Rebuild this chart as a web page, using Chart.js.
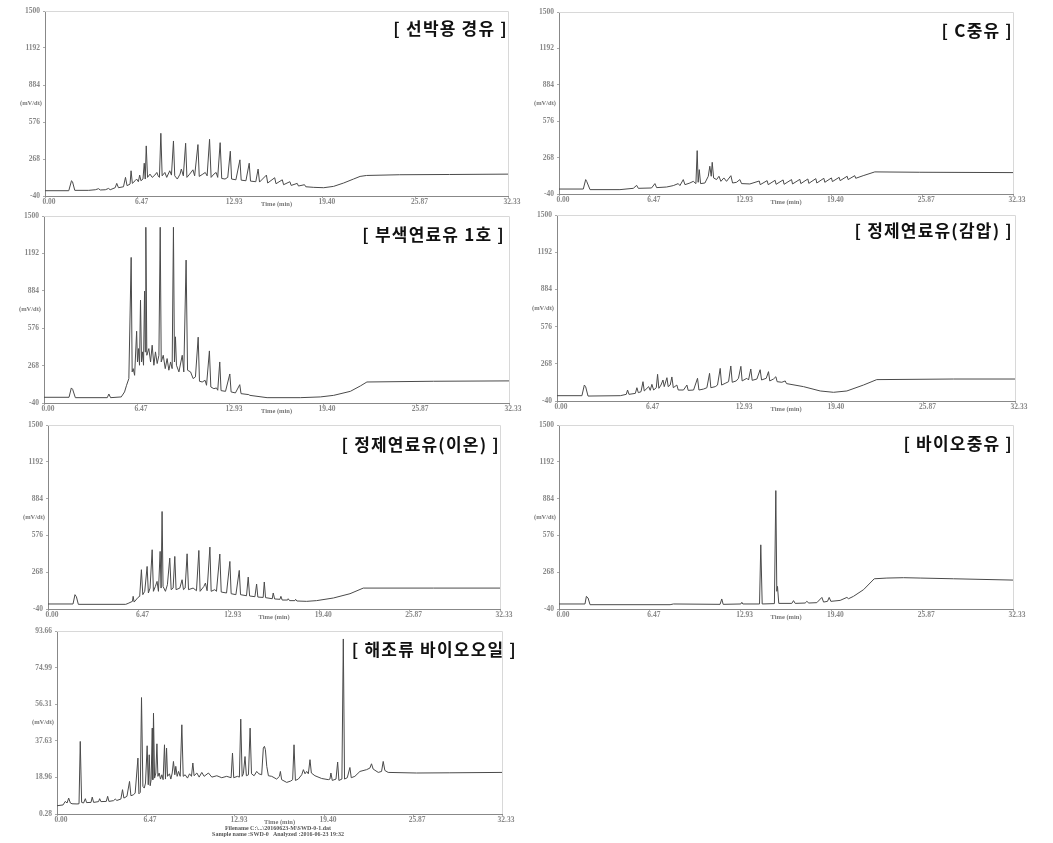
<!DOCTYPE html>
<html>
<head>
<meta charset="utf-8">
<script src="https://cdn.jsdelivr.net/npm/chart.js@4.4.1/dist/chart.umd.min.js"></script>
<style>
  html, body { margin: 0; padding: 0; background: #fff; }
  #page { position: relative; width: 1053px; height: 843px; overflow: hidden; }
  #page canvas { position: absolute; }
  .tag {
    position: absolute;
    font-family: "Noto Sans CJK KR", sans-serif;
    font-weight: bold;
    font-size: 17px;
    letter-spacing: 1.2px;
    color: #111;
    white-space: pre;
    line-height: 20px;
  }
  .foot {
    position: absolute;
    font-family: "Liberation Serif", serif;
    font-weight: bold;
    font-size: 6px;
    color: #555;
    white-space: pre;
    text-align: center;
    width: 300px;
    line-height: 6px;
  }
</style>
</head>
<body>
<div id="page">
  <canvas id="c1"></canvas>
  <canvas id="c2"></canvas>
  <canvas id="c3"></canvas>
  <canvas id="c4"></canvas>
  <canvas id="c5"></canvas>
  <canvas id="c6"></canvas>
  <canvas id="c7"></canvas>
  <div class="tag" style="right:545px; top:18px">[ 선박용 경유 ]</div>
  <div class="tag" style="right:40px; top:20px">[ C중유 ]</div>
  <div class="tag" style="right:548px; top:224px">[ 부색연료유 1호 ]</div>
  <div class="tag" style="right:40px; top:220px">[ 정제연료유(감압) ]</div>
  <div class="tag" style="right:553px; top:434px">[ 정제연료유(이온) ]</div>
  <div class="tag" style="right:40px; top:433px">[ 바이오중유 ]</div>
  <div class="tag" style="right:536px; top:639px">[ 해조류 바이오오일 ]</div>
  <div class="foot" style="left:128px; top:825px">Filename C:\...\20160623-M\SWD-0-1.dat</div>
  <div class="foot" style="left:128px; top:831px">Sample name :SWD-0   Analyzed :2016-06-23 19:32</div>
</div>
<script>
// axis ticks
const timeTicks = [0, 6.47, 12.93, 19.40, 25.87, 32.33];
const mvTicks = [-40, 268, 576, 884, 1192, 1500];
const algaeTicks = [0.28, 18.96, 37.63, 56.31, 74.99, 93.66];

// chromatograms, [time (min), signal]
const marineDiesel = [
  [0,4],[1.66,4],[1.85,87],[1.92,79],[2.08,7],[3.05,7],[3.51,12],[3.74,21],[3.86,10],[4.21,12],
  [4.44,23],[4.55,12],[4.9,29],[5.01,65],[5.13,29],[5.48,37],[5.62,115],[5.73,46],[5.94,59],[6.01,170],
  [6.1,65],[6.29,87],[6.4,101],[6.52,79],[6.61,134],[6.7,87],[6.84,101],[6.93,233],[7.0,101],[7.07,377],
  [7.16,115],[7.33,142],[7.49,115],[7.67,134],[7.81,156],[7.9,128],[7.99,115],[8.09,482],[8.18,128],[8.37,156],
  [8.5,115],[8.71,170],[8.83,134],[8.97,418],[9.06,128],[9.24,101],[9.43,142],[9.52,184],[9.66,128],[9.82,399],
  [9.91,115],[10.1,142],[10.33,178],[10.45,128],[10.68,388],[10.77,123],[11.02,142],[11.19,156],[11.32,128],[11.49,432],
  [11.6,115],[11.79,142],[11.95,156],[12.06,115],[12.23,404],[12.34,106],[12.57,101],[12.76,115],[12.94,333],[13.03,101],
  [13.33,95],[13.61,261],[13.7,92],[14.03,87],[14.26,233],[14.35,84],[14.72,79],[14.88,184],[14.98,76],[15.46,134],
  [15.55,68],[16.04,112],[16.13,62],[16.57,95],[16.66,54],[17.1,79],[17.19,48],[17.61,65],[17.7,43],[18.12,54],
  [18.21,37],[18.77,32],[19.46,29],[20.15,40],[20.85,68],[21.54,101],[22.0,123],[22.46,131],[24.77,137],[28.24,139],
  [32.33,142]
];
const bunkerC = [
  [0,2],[1.73,2],[1.9,82],[1.97,67],[2.21,-3],[4.34,-3],[5.29,8],[5.53,33],[5.65,8],[6.59,11],
  [6.83,48],[6.95,14],[7.66,19],[8.14,31],[8.49,48],[8.61,31],[8.85,82],[8.97,39],[9.32,53],[9.56,67],
  [9.75,48],[9.84,327],[9.91,59],[9.99,166],[10.08,48],[10.39,53],[10.63,110],[10.74,195],[10.84,110],[10.91,228],
  [11.01,96],[11.22,82],[11.39,110],[11.53,67],[11.74,96],[11.93,67],[12.24,115],[12.36,53],[12.64,59],[12.88,82],
  [13.0,48],[13.59,45],[14.26,70],[14.33,39],[14.82,73],[14.9,39],[15.39,76],[15.46,42],[15.96,79],[16.03,42],
  [16.56,82],[16.63,45],[17.15,84],[17.22,48],[17.72,87],[17.79,50],[18.29,90],[18.36,53],[18.86,93],[18.93,59],
  [19.4,96],[19.47,65],[19.95,101],[20.02,73],[20.52,110],[20.59,82],[21.06,115],[21.13,93],[21.66,115],[22.49,147],
  [25.69,144],[32.33,141]
];
const dyedFuel1 = [
  [0,7],[1.74,7],[1.9,84],[1.99,73],[2.18,4],[4.4,4],[4.51,34],[4.63,4],[5.37,10],[5.6,51],
  [5.74,106],[5.9,161],[6.06,1159],[6.13,216],[6.2,243],[6.3,188],[6.44,551],[6.5,298],[6.57,408],[6.64,271],
  [6.71,807],[6.78,298],[6.85,381],[6.92,271],[6.99,881],[7.04,381],[7.08,1407],[7.15,353],[7.29,408],[7.41,298],
  [7.52,436],[7.64,271],[7.75,381],[7.87,285],[7.99,353],[8.08,1407],[8.15,298],[8.29,353],[8.43,243],[8.56,326],
  [8.68,230],[8.8,298],[8.91,243],[9.0,1407],[9.07,298],[9.14,505],[9.21,271],[9.38,216],[9.61,353],[9.72,216],
  [9.88,1137],[9.98,230],[10.19,216],[10.37,161],[10.53,175],[10.72,502],[10.81,139],[11.0,133],[11.2,147],[11.3,106],
  [11.5,389],[11.6,92],[11.81,78],[11.99,84],[12.08,65],[12.22,298],[12.31,62],[12.62,56],[12.92,199],[13.01,51],
  [13.31,43],[13.61,111],[13.7,37],[14.24,29],[14.31,23],[15.51,4],[17.82,4],[19.21,10],[20.14,23],[21.3,56],
  [21.99,100],[22.45,133],[27.08,139],[32.33,142]
];
const refinedVacuum = [
  [0,4],[1.76,4],[1.93,92],[2.02,79],[2.19,1],[4.47,4],[4.89,15],[4.98,51],[5.08,15],[5.53,23],
  [5.64,70],[5.74,29],[5.93,37],[6.07,120],[6.16,43],[6.47,79],[6.58,48],[6.7,98],[6.82,51],[7.01,70],
  [7.1,181],[7.19,65],[7.34,92],[7.48,134],[7.57,79],[7.76,153],[7.85,79],[7.99,92],[8.11,159],[8.21,70],
  [8.46,92],[8.56,51],[8.93,51],[9.17,92],[9.26,48],[9.64,51],[9.92,148],[10.02,51],[10.35,59],[10.58,70],
  [10.77,189],[10.86,70],[11.17,79],[11.33,92],[11.52,230],[11.62,92],[11.87,106],[12.11,120],[12.27,250],[12.37,115],
  [12.65,126],[12.81,148],[12.98,247],[13.07,126],[13.4,148],[13.52,134],[13.68,225],[13.78,131],[14.11,142],[14.34,219],
  [14.44,134],[14.77,148],[14.93,203],[15.02,126],[15.28,142],[15.45,161],[15.54,120],[15.87,115],[16.11,126],[16.2,104],
  [17.4,79],[18.58,43],[19.52,32],[20.46,43],[21.63,92],[22.57,137],[27.98,142],[32.33,142]
];
const refinedIon = [
  [0,2],[1.79,2],[1.93,80],[2.03,63],[2.17,-1],[5.56,-1],[5.73,7],[6.04,24],[6.09,66],[6.16,18],
  [6.44,57],[6.56,66],[6.68,289],[6.78,80],[6.92,108],[7.09,316],[7.18,94],[7.3,135],[7.45,456],[7.54,108],
  [7.68,149],[7.8,191],[7.9,108],[8.02,442],[8.09,135],[8.16,776],[8.23,149],[8.4,108],[8.54,163],[8.71,386],
  [8.81,122],[8.95,135],[9.07,400],[9.16,122],[9.43,135],[9.59,205],[9.69,122],[9.81,135],[9.95,422],[10.05,122],
  [10.38,135],[10.62,113],[10.79,450],[10.88,108],[11.15,149],[11.26,177],[11.38,113],[11.58,478],[11.67,108],[11.93,122],
  [12.05,108],[12.29,420],[12.39,102],[12.77,94],[13.01,358],[13.1,88],[13.44,80],[13.68,283],[13.77,80],[14.2,71],
  [14.32,227],[14.42,69],[14.8,63],[14.92,169],[15.01,60],[15.39,57],[15.47,186],[15.56,55],[16.04,46],[16.11,94],
  [16.21,44],[16.59,41],[16.66,66],[16.75,35],[17.14,35],[17.18,46],[17.28,30],[17.66,30],[17.71,41],[17.8,27],
  [18.5,24],[19.21,30],[20.41,52],[21.6,88],[22.55,135],[27.57,135],[32.33,135]
];
const bioHeavy = [
  [0,2],[1.85,2],[1.95,66],[2.07,52],[2.21,-4],[7.91,-4],[8.15,2],[11.47,-1],[11.59,44],[11.69,-1],
  [12.95,2],[13.02,16],[13.09,2],[14.28,2],[14.37,497],[14.47,2],[15.34,5],[15.44,951],[15.51,108],[15.56,149],
  [15.65,7],[16.58,7],[16.7,30],[16.82,7],[17.53,10],[17.65,24],[17.79,10],[18.36,13],[18.72,57],[18.84,18],
  [19.12,24],[19.24,57],[19.36,24],[20.02,32],[20.5,57],[20.62,46],[20.97,66],[21.69,122],[22.45,213],[23.35,219],
  [24.54,222],[25.72,219],[28.1,213],[32.33,202]
];
const algaeBioOil = [
  [0,4.5],[0.44,4.9],[0.6,6.7],[0.73,5.9],[0.85,8.4],[0.97,5.9],[1.09,5.5],[1.45,5.4],[1.6,5.5],[1.69,37.3],
  [1.79,6.2],[1.93,5.9],[2.06,8.1],[2.15,6.1],[2.47,6.2],[2.56,8.9],[2.66,6.2],[3.02,6.6],[3.1,8.1],[3.19,6.6],
  [3.58,6.7],[3.68,9.3],[3.77,6.7],[4.11,7.1],[4.23,7.9],[4.35,7.2],[4.64,7.9],[4.76,12.7],[4.86,8.4],[5.08,9.3],
  [5.27,16.9],[5.37,9.6],[5.56,10.1],[5.68,11.0],[5.88,28.8],[5.95,10.6],[6.05,11.3],[6.14,59.7],[6.24,14.4],[6.34,13.5],
  [6.43,16.1],[6.55,35.1],[6.63,15.2],[6.7,30.5],[6.77,14.7],[6.84,17.8],[6.92,44.1],[6.96,17.8],[7.01,51.7],[7.09,18.6],
  [7.18,21.2],[7.26,36.1],[7.33,19.5],[7.42,21.2],[7.52,18.1],[7.62,20.3],[7.71,17.8],[7.81,35.6],[7.88,18.1],[7.96,33.9],
  [8.03,19.5],[8.17,20.8],[8.27,18.1],[8.37,21.2],[8.46,27.1],[8.56,20.3],[8.63,24.6],[8.73,19.5],[8.83,22.0],[8.95,19.5],
  [9.07,45.8],[9.17,19.5],[9.31,20.3],[9.48,18.6],[9.63,20.8],[9.77,19.5],[9.87,26.3],[9.96,19.8],[10.16,21.2],[10.33,19.1],
  [10.52,21.5],[10.69,19.5],[11.0,21.2],[11.25,19.1],[11.61,19.8],[11.97,18.8],[12.33,19.5],[12.65,18.8],[12.75,31.4],[12.84,18.8],
  [13.11,19.5],[13.25,19.1],[13.35,48.7],[13.45,19.5],[13.54,20.8],[13.66,29.6],[13.76,19.8],[13.91,20.3],[14.03,44.1],[14.13,20.8],
  [14.32,19.8],[14.51,22.0],[14.66,20.8],[14.87,20.3],[14.99,33.9],[15.07,34.8],[15.14,33.1],[15.24,24.6],[15.36,19.8],[15.6,19.5],
  [15.96,18.1],[16.16,19.5],[16.23,22.0],[16.32,17.8],[16.69,16.4],[16.98,17.1],[17.12,17.8],[17.22,35.6],[17.32,17.4],[17.53,18.1],
  [17.78,20.3],[17.9,22.9],[18.02,20.8],[18.14,22.0],[18.26,20.8],[18.38,28.0],[18.48,21.2],[18.74,19.8],[19.23,18.4],[19.71,17.8],
  [19.83,18.1],[19.9,21.2],[20.0,17.4],[20.27,18.1],[20.39,26.8],[20.48,17.4],[20.7,18.1],[20.8,89.6],[20.89,18.1],[21.09,18.8],
  [21.28,24.0],[21.38,18.8],[21.64,19.5],[22.01,22.0],[22.49,22.9],[22.73,23.7],[22.85,25.9],[22.97,23.2],[23.34,21.5],[23.58,22.0],
  [23.7,27.1],[23.82,22.5],[24.06,21.5],[26.12,21.2],[28.54,21.3],[32.33,21.5]
];

// plot areas on the page: left, top, right, bottom
const panels = [
  { id: 'c1', data: marineDiesel, yTicks: mvTicks, area: [45, 11, 508, 196] },
  { id: 'c2', data: bunkerC, yTicks: mvTicks, area: [559, 12, 1013, 194] },
  { id: 'c3', data: dyedFuel1, yTicks: mvTicks, area: [44, 216, 509, 403] },
  { id: 'c4', data: refinedVacuum, yTicks: mvTicks, area: [557, 215, 1015, 401] },
  { id: 'c5', data: refinedIon, yTicks: mvTicks, area: [48, 425, 500, 609] },
  { id: 'c6', data: bioHeavy, yTicks: mvTicks, area: [559, 425, 1013, 609] },
  { id: 'c7', data: algaeBioOil, yTicks: algaeTicks, area: [57, 631, 502, 814] }
];

const YW = 45, XH = 12, PT = 8, PR = 14;
const tickFont = { family: '"Liberation Serif", serif', size: 7.5, weight: 'bold' };

const frame = {
  id: 'frame',
  afterDraw(chart) {
    const { ctx, chartArea: a } = chart;
    ctx.save();
    ctx.strokeStyle = '#d8d8d8';
    ctx.lineWidth = 1;
    ctx.beginPath();
    ctx.moveTo(a.left, a.top + 0.5);
    ctx.lineTo(a.right + 0.5, a.top + 0.5);
    ctx.lineTo(a.right + 0.5, a.bottom);
    ctx.stroke();
    ctx.fillStyle = '#777';
    ctx.font = 'bold 6.5px "Liberation Serif", serif';
    ctx.textAlign = 'right';
    ctx.textBaseline = 'middle';
    ctx.fillText('(mV/dt)', a.left - 3, (a.top + a.bottom) / 2);
    ctx.restore();
  }
};

panels.forEach(p => {
  const [l, t, r, b] = p.area;
  const cv = document.getElementById(p.id);
  cv.width = r - l + YW + PR;
  cv.height = b - t + PT + XH;
  cv.style.left = (l - YW) + 'px';
  cv.style.top = (t - PT) + 'px';
  const digits = p.yTicks === algaeTicks ? 2 : 0;

  new Chart(cv, {
    type: 'line',
    data: {
      datasets: [{
        data: p.data.map(([x, y]) => ({ x, y })),
        borderColor: '#4a4a4a',
        borderWidth: 1,
        pointRadius: 0,
        tension: 0,
        fill: false
      }]
    },
    options: {
      responsive: false,
      animation: false,
      events: [],
      layout: { padding: { top: PT, right: PR, left: 0, bottom: 0 } },
      plugins: { legend: { display: false }, tooltip: { enabled: false } },
      scales: {
        x: {
          type: 'linear',
          min: 0,
          max: 32.33,
          afterBuildTicks: s => { s.ticks = timeTicks.map(v => ({ value: v })); },
          afterFit: s => { s.height = XH; },
          ticks: {
            callback: v => v.toFixed(2),
            autoSkip: false,
            maxRotation: 0,
            font: tickFont,
            color: '#888',
            padding: 0,
            labelOffset: 4
          },
          grid: { drawOnChartArea: false, tickLength: 2, color: '#aaa' },
          border: { color: '#888' },
          title: {
            display: true,
            text: 'Time (min)',
            font: { family: '"Liberation Serif", serif', size: 6.5, weight: 'bold' },
            color: '#777',
            padding: 0
          }
        },
        y: {
          min: p.yTicks[0],
          max: p.yTicks[p.yTicks.length - 1],
          afterBuildTicks: s => { s.ticks = p.yTicks.map(v => ({ value: v })); },
          afterFit: s => { s.width = YW; },
          ticks: {
            callback: v => v.toFixed(digits),
            font: tickFont,
            color: '#888',
            padding: 3
          },
          grid: { drawOnChartArea: false, tickLength: 2, color: '#aaa' },
          border: { color: '#888' }
        }
      }
    },
    plugins: [frame]
  });
});
</script>
</body>
</html>
